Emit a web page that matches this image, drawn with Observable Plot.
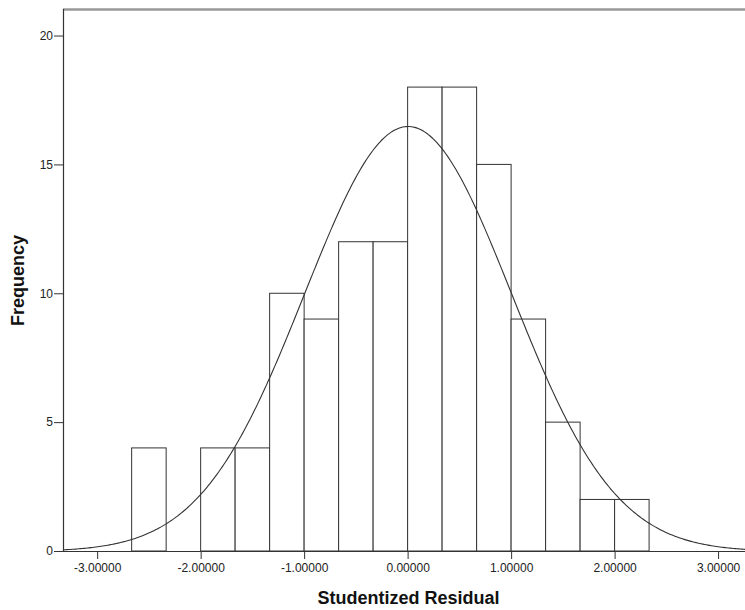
<!DOCTYPE html>
<html>
<head>
<meta charset="utf-8">
<script src="https://cdn.jsdelivr.net/npm/d3@7"></script>
<script src="https://cdn.jsdelivr.net/npm/@observablehq/plot@0.6"></script>
<style>
  html, body { margin: 0; padding: 0; background: #fff; }
  #chart svg { display: block; }
</style>
</head>
<body>
<div id="chart"></div>
<script>
// Histogram bins
const binStart = [-2.6667, -2.3333, -2.0, -1.6667, -1.3333, -1.0, -0.6667, -0.3333, 0.0, 0.3333, 0.6667, 1.0, 1.3333, 1.6667, 2.0];
const binEnd   = [-2.3333, -2.0, -1.6667, -1.3333, -1.0, -0.6667, -0.3333, 0.0, 0.3333, 0.6667, 1.0, 1.3333, 1.6667, 2.0, 2.3333];
const frequency = [4, 0, 4, 4, 10, 9, 12, 12, 18, 18, 15, 9, 5, 2, 2];

// Normal curve parameters
const mean = 0.0;
const stdDev = 1.0;
const nTotal = 124;
const binWidth = 1 / 3;

// Axis ticks and labels
const xTicks = [-3, -2, -1, 0, 1, 2, 3];
const yTicks = [0, 5, 10, 15, 20];
const xLabel = "Studentized Residual";
const yLabel = "Frequency";

const xDomain = [-3.33, 3.26];
const yDomain = [0, 21.03];

const bins = binStart.map((lo, i) => ({lo, hi: binEnd[i], count: frequency[i]})).filter(d => d.count > 0);

const curve = d3.range(0, 401).map(i => {
  const x = xDomain[0] + (xDomain[1] - xDomain[0]) * i / 400;
  const z = (x - mean) / stdDev;
  return {x, y: nTotal * binWidth * Math.exp(-0.5 * z * z) / (stdDev * Math.sqrt(2 * Math.PI))};
});

const ink = "#333";

const chart = Plot.plot({
  width: 745,
  height: 610,
  marginLeft: 63,
  marginRight: 0,
  marginTop: 9,
  marginBottom: 59,
  style: {fontFamily: "'Liberation Sans', Arial, sans-serif", color: "#222", background: "#fff"},
  x: {domain: xDomain},
  y: {domain: yDomain},
  marks: [
    Plot.rect(bins, {x1: "lo", x2: "hi", y1: 0, y2: "count", fill: "white", stroke: ink, strokeWidth: 1}),
    Plot.line(curve, {x: "x", y: "y", stroke: ink, strokeWidth: 1.1}),
    Plot.ruleY([yDomain[1]], {stroke: "#999", strokeWidth: 2.5}),
    Plot.ruleX([xDomain[0]], {stroke: ink, strokeWidth: 1.2}),
    Plot.ruleY([0], {stroke: ink, strokeWidth: 1.2}),
    Plot.axisX({ticks: xTicks, tickFormat: () => "", tickSize: 8, label: null, stroke: ink}),
    Plot.axisY({ticks: yTicks, tickFormat: () => "", tickSize: 9, label: null, stroke: ink}),
    Plot.text(xTicks, {x: d => d, frameAnchor: "bottom", dy: 12, lineAnchor: "top", text: d => d.toFixed(5), fontSize: 12, fill: "#222"}),
    Plot.text(yTicks, {y: d => d, frameAnchor: "left", dx: -10.5, textAnchor: "end", lineAnchor: "middle", text: d => String(d), fontSize: 12, fill: "#222"}),
    Plot.text([xLabel], {frameAnchor: "bottom", dx: 4, dy: 47, text: d => d, fontWeight: "bold", fontSize: 18, fill: "#111", lineAnchor: "middle", textAnchor: "middle"}),
    Plot.text([yLabel], {frameAnchor: "left", dx: -45.5, text: d => d, rotate: -90, fontWeight: "bold", fontSize: 18, fill: "#111", lineAnchor: "middle", textAnchor: "middle"})
  ]
});

document.getElementById("chart").appendChild(chart);
</script>
</body>
</html>
